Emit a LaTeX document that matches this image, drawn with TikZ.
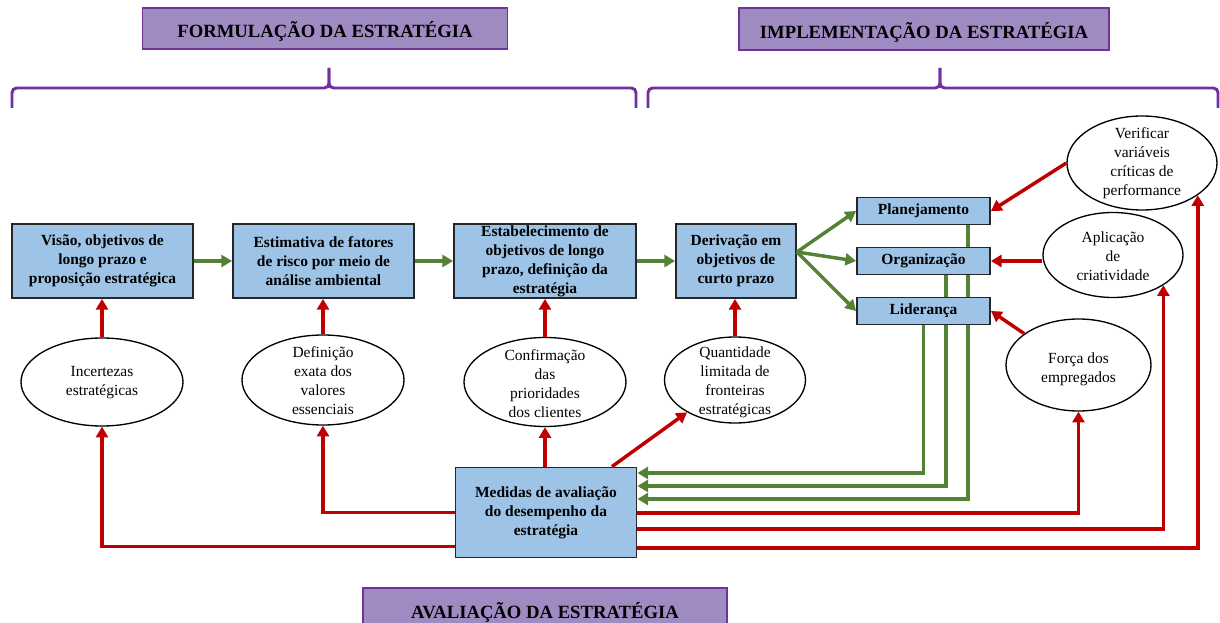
\documentclass[tikz,border=0pt]{standalone}
\usepackage{fontspec}
\setmainfont{Liberation Serif}
\usetikzlibrary{shapes.geometric,arrows.meta,calc}
\pgfdeclarelayer{bg}
\pgfsetlayers{bg,main}
\definecolor{boxblue}{HTML}{9DC3E6}
\definecolor{titlepurple}{HTML}{A08AC2}
\definecolor{bracepurple}{HTML}{7030A0}
\definecolor{flowgreen}{HTML}{548235}
\definecolor{flowred}{HTML}{C00000}
\def\pxu{0.75pt}
\begin{document}
\begin{tikzpicture}[x=0.75pt,y=-0.75pt,
  stagebox/.style={draw=black!85, line width=1.4pt, fill=boxblue, inner sep=0pt, align=center,
    font=\fontsize{11.6}{14.25}\selectfont\bfseries},
  funcbox/.style={stagebox, minimum width=133*\pxu, minimum height=27*\pxu},
  titlebox/.style={draw=bracepurple, line width=1pt, fill=titlepurple, inner sep=0pt,
    text height=14pt, text depth=0pt, font=\fontsize{14}{16}\selectfont\bfseries},
  oval/.style={ellipse, draw=black, line width=1pt, fill=white, inner sep=0pt},
  ovaltext/.style={align=center, inner sep=0pt, font=\fontsize{11.6}{14.25}\selectfont},
  brace/.style={draw=bracepurple, line width=2.2pt, rounded corners=3.5pt},
  garrow/.style={draw=flowgreen, line width=2.6pt, -{Triangle[length=8pt,width=9pt]}},
  rarrow/.style={draw=flowred, line width=2.6pt, -{Triangle[length=8pt,width=9pt]}},
]
\useasboundingbox (0,0) rectangle (1220,623);

% phase titles
\node[titlebox, minimum width=365*\pxu, minimum height=41*\pxu] (T1) at (325,28.5) {FORMULAÇÃO DA ESTRATÉGIA};
\node[titlebox, minimum width=370*\pxu, minimum height=42*\pxu] (T2) at (924,29) {IMPLEMENTAÇÃO DA ESTRATÉGIA};
\node[titlebox, minimum width=364*\pxu, minimum height=43*\pxu] (T3) at (545,609.5) {AVALIAÇÃO DA ESTRATÉGIA};

% braces
\draw[brace] (12,108) -- (12,88) -- (329,88) -- (329,68);
\draw[brace] (636,108) -- (636,88) -- (329,88) -- (329,68);
\draw[brace] (648,108) -- (648,88) -- (940,88) -- (940,68);
\draw[brace] (1218,108) -- (1218,88) -- (940,88) -- (940,68);

% formulation chain
\node[stagebox, minimum width=181*\pxu, minimum height=74*\pxu] (B1) at (102.5,261)
  {Visão, objetivos de\\longo prazo e\\proposição estratégica};
\node[stagebox, minimum width=181*\pxu, minimum height=74*\pxu] (B2) at (323.5,261)
  {Estimativa de fatores\\de risco por meio de\\análise ambiental};
\node[stagebox, minimum width=182*\pxu, minimum height=74*\pxu] (B3) at (545,261)
  {Estabelecimento de\\objetivos de longo\\prazo, definição da\\estratégia};
\node[stagebox, minimum width=120*\pxu, minimum height=74*\pxu] (B4) at (736,261)
  {Derivação em\\objetivos de\\curto prazo};

% implementation functions
\node[funcbox] (P) at (923.5,211) {Planejamento};
\node[funcbox] (O) at (923.5,261) {Organização};
\node[funcbox] (L) at (923.5,311) {Liderança};

% evaluation
\node[stagebox, minimum width=181*\pxu, minimum height=90*\pxu] (M) at (546,512.5)
  {Medidas de avaliação\\do desempenho da\\estratégia};

% control ovals
\node[oval, minimum width=162*\pxu, minimum height=88*\pxu] (E1) at (102,382) {};
\node[ovaltext] (E1t) at (102,383) {Incertezas\\estratégicas};
\node[oval, minimum width=162*\pxu, minimum height=90*\pxu] (E2) at (323,380) {};
\node[ovaltext] (E2t) at (323,381) {Definição\\exata dos\\valores\\essenciais};
\node[oval, minimum width=162*\pxu, minimum height=89*\pxu] (E3) at (545,382) {};
\node[ovaltext] (E3t) at (545,383.5) {Confirmação\\das\\prioridades\\dos clientes};
\node[oval, minimum width=141*\pxu, minimum height=86*\pxu] (E4) at (735,380) {};
\node[ovaltext] (E4t) at (735,382) {Quantidade\\limitada de\\fronteiras\\estratégicas};
\node[oval, minimum width=150*\pxu, minimum height=94*\pxu] (E5) at (1142,163) {};
\node[ovaltext] (E5t) at (1142,163.5) {Verificar\\variáveis\\críticas de\\performance};
\node[oval, minimum width=140*\pxu, minimum height=85*\pxu] (E6) at (1113,255) {};
\node[ovaltext] (E6t) at (1113,256) {Aplicação\\de\\criatividade};
\node[oval, minimum width=145*\pxu, minimum height=92*\pxu] (E7) at (1078.5,365) {};
\node[ovaltext] (E7t) at (1078.5,369) {Força dos\\empregados};

% main flow
\draw[garrow] (B1.east) -- (B2.west);
\draw[garrow] (B2.east) -- (B3.west);
\draw[garrow] (B3.east) -- (B4.west);
\draw[garrow] ($(B4.east)+(0,-9)$) -- (P.west);
\draw[garrow] ($(B4.east)+(0,-9)$) -- (O.west);
\draw[garrow] ($(B4.east)+(0,-9)$) -- (L.west);

% feedback from the functions, passing behind the boxes
\begin{pgfonlayer}{bg}
\draw[garrow] (L.south) |- ($(M.east)+(0,-39.5)$);
\draw[garrow] ($(O.south)+(22.5,0)$) |- ($(M.east)+(0,-26.5)$);
\draw[garrow] ($(P.south)+(44.5,0)$) |- ($(M.east)+(0,-13.5)$);
\end{pgfonlayer}

% influences
\draw[rarrow] (E1.north) -- (E1.north |- B1.south);
\draw[rarrow] (E2.north) -- (E2.north |- B2.south);
\draw[rarrow] (E3.north) -- (E3.north |- B3.south);
\draw[rarrow] (E4.north) -- (E4.north |- B4.south);
\draw[rarrow] (E5.west) -- (P.east);
\draw[rarrow] (O.east -| E6.west) -- (O.east);
\draw[rarrow] (E7.150) -- (L.east);

% evaluation links
\draw[rarrow] (M.north -| E3) -- (E3.south);
\draw[rarrow] ($(M.north)+(66,0)$) -- (E4.214);
\draw[rarrow] (M.west) -| (E2.south);
\draw[rarrow] ($(M.west)+(0,34)$) -| (E1.south);
\draw[rarrow] ($(M.east)+(0,0.5)$) -| (E7.south);
\draw[rarrow] ($(M.east)+(0,16.5)$) -| (E6.329);
\draw[rarrow] ($(M.east)+(0,35.5)$) -| (E5.330);
\end{tikzpicture}
\end{document}
